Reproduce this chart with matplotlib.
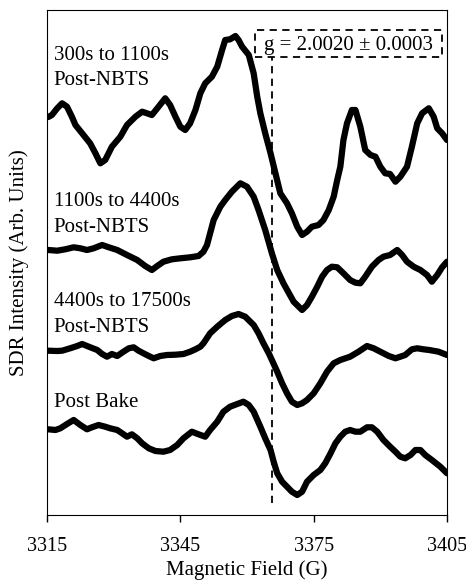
import numpy as np
import matplotlib.pyplot as plt
from matplotlib.patches import Rectangle

plt.rcParams['font.family'] = ['Liberation Serif', 'DejaVu Serif']

# traces (field in G, intensity in arb. units)
field1 = [3315.3, 3316.1, 3317.3, 3318.4, 3319.5, 3320.6, 3321.4, 3322.9, 3324.7, 3325.9,
          3327.0, 3328.1, 3329.6, 3331.5, 3333.0, 3334.9, 3336.4, 3337.5, 3338.6, 3340.1,
          3341.6, 3342.7, 3343.9, 3345.0, 3346.1, 3347.2, 3348.4, 3349.5, 3350.6, 3352.1,
          3353.3, 3354.4, 3355.1, 3356.2, 3357.4, 3358.1, 3358.9, 3360.4, 3361.5, 3362.3,
          3363.0, 3364.1, 3365.3, 3366.4, 3367.5, 3369.0, 3370.1, 3371.3, 3372.4, 3373.5,
          3374.6, 3376.1, 3377.2, 3378.4, 3379.5, 3380.3, 3381.0, 3381.7, 3382.5, 3383.6,
          3384.4, 3385.5, 3386.6, 3387.8, 3388.9, 3390.0, 3391.1, 3392.2, 3393.4, 3394.5,
          3396.0, 3397.1, 3398.3, 3399.4, 3400.9, 3402.0, 3402.8, 3403.9, 3405.0]
sig1 = [398, 400, 406.7, 411.7, 408.3, 398.3, 390, 381.7, 371.7, 361.7,
        351.7, 355, 368.3, 378.3, 390, 398.3, 403.3, 401.7, 400, 408.3,
        416.7, 410, 398.3, 388.3, 385, 391.7, 405, 421.7, 431.7, 438.3,
        448.3, 465, 475, 475.7, 479, 475, 468.3, 460, 441.7, 418.3,
        401.7, 381.7, 361.7, 341.7, 321.7, 311.7, 301.7, 288.3, 280, 283.3,
        288.3, 290, 295, 305, 318.3, 335, 348.3, 375, 391.7, 405,
        405, 388.3, 365, 360, 358.3, 348.3, 341.7, 341, 333.3, 338.3,
        348.3, 368.3, 391.7, 401.7, 406.7, 398.3, 386.7, 381.7, 375]

field2 = [3315.3, 3317.3, 3319.1, 3321.0, 3322.5, 3324.0, 3325.5, 3327.4, 3328.9, 3330.8,
          3333.0, 3335.3, 3337.1, 3338.6, 3339.8, 3341.2, 3343.1, 3345.0, 3347.2, 3349.1,
          3350.2, 3351.0, 3351.7, 3352.5, 3354.0, 3355.1, 3356.6, 3358.5, 3360.0, 3361.5,
          3362.6, 3364.1, 3365.6, 3366.8, 3368.2, 3370.5, 3372.4, 3373.5, 3374.6, 3375.8,
          3376.9, 3378.0, 3379.1, 3380.3, 3381.7, 3383.2, 3384.4, 3385.5, 3386.6, 3388.1,
          3389.6, 3390.7, 3392.2, 3393.8, 3394.9, 3396.0, 3397.5, 3399.0, 3400.5, 3401.6,
          3402.8, 3403.9, 3405.0]
sig2 = [265, 264.3, 265.7, 267.7, 266.7, 265, 266.7, 270, 267.7, 265,
        260, 255, 249, 245, 249, 253.3, 255.7, 256.7, 257.7, 259,
        263.3, 270, 281.7, 295, 308.3, 315, 323.3, 331.7, 328.3, 318.3,
        305, 285, 261.7, 245, 231.7, 213.3, 205, 210, 218.3, 228.3,
        238.3, 245, 248.3, 247.7, 241.7, 235, 232.3, 231.7, 238.3, 248.3,
        255, 258.3, 260, 265, 260, 253.3, 248.3, 245, 240, 233.3,
        240, 247.7, 253.3]

field3 = [3315.3, 3317.3, 3318.4, 3320.2, 3321.8, 3322.9, 3324.4, 3326.3, 3327.4, 3328.5,
          3329.6, 3330.8, 3332.2, 3333.4, 3334.5, 3335.6, 3336.7, 3337.9, 3339.0, 3340.5,
          3342.0, 3343.9, 3345.7, 3347.2, 3348.4, 3349.5, 3350.2, 3351.7, 3353.3, 3355.1,
          3356.6, 3358.1, 3359.6, 3361.5, 3362.6, 3363.7, 3364.9, 3365.6, 3366.8, 3367.9,
          3369.0, 3370.1, 3371.3, 3372.4, 3373.5, 3375.0, 3376.5, 3378.0, 3379.5, 3381.0,
          3383.2, 3385.1, 3387.0, 3388.5, 3390.0, 3391.9, 3393.4, 3394.5, 3395.6, 3397.1,
          3398.3, 3399.7, 3401.0, 3403.1, 3405.0]
sig3 = [164.3, 164, 164.3, 166.7, 169, 171, 168.3, 165, 161, 158.3,
        161, 159, 163.3, 166.7, 167.7, 164.3, 161.7, 159, 156.7, 159,
        160, 160.3, 161, 163.3, 165.7, 168.3, 171.7, 181.7, 188.3, 195,
        199, 201, 198.3, 190, 181.7, 171.7, 161.7, 155, 143.3, 131.7,
        121.7, 113.3, 110, 111.7, 115, 121.7, 131.7, 143.3, 151.7, 155,
        158.3, 163.3, 169, 166.7, 163.3, 159, 156.7, 158.3, 160, 165.7,
        166.7, 165.7, 165, 163.3, 160]

field4 = [3315.3, 3316.9, 3318.0, 3319.5, 3321.0, 3322.5, 3324.0, 3325.1, 3326.6, 3328.1,
          3329.2, 3330.8, 3331.9, 3333.0, 3334.1, 3335.3, 3336.4, 3337.9, 3339.4, 3341.2,
          3342.7, 3344.3, 3345.7, 3347.6, 3349.1, 3350.6, 3351.7, 3353.3, 3354.7, 3356.2,
          3357.8, 3359.2, 3360.4, 3361.5, 3363.0, 3364.1, 3365.3, 3366.0, 3366.8, 3367.9,
          3369.0, 3370.1, 3371.3, 3372.4, 3373.5, 3375.0, 3376.5, 3377.6, 3378.8, 3379.9,
          3381.0, 3382.1, 3383.2, 3384.4, 3385.5, 3387.0, 3388.1, 3389.3, 3390.7, 3392.2,
          3393.4, 3394.5, 3395.6, 3396.8, 3397.9, 3399.0, 3400.1, 3401.6, 3403.5, 3405.0]
sig4 = [85.7, 85, 86.7, 91, 95, 90, 85.7, 87.7, 90, 88.3,
        86.7, 85, 81.7, 78.3, 80.7, 76.7, 71.7, 66.7, 64, 63.3,
        65, 70, 76.7, 83.3, 80.7, 78.3, 85, 93.3, 103.3, 108.3,
        111, 113.3, 110, 103.3, 88.3, 76.7, 65, 53.3, 41.7, 33.3,
        28.3, 23.3, 20, 23.3, 33.3, 40, 45, 51.7, 61.7, 71.7,
        78.3, 83.3, 85, 83.3, 83.3, 87.7, 87.7, 83.3, 75, 68.3,
        63.3, 58.3, 56.7, 60, 65, 65, 60, 55, 48.3, 41.7]

labels = ['300s to 1100s\nPost-NBTS', '1100s to 4400s\nPost-NBTS',
          '4400s to 17500s\nPost-NBTS', 'Post Bake']
label_y = [430, 283.3, 183.3, 108.3]   # baseline of the last line
g_field = 3365.6
g_text = 'g = 2.0020 ± 0.0003'

fig = plt.figure(figsize=(4.66, 5.81), dpi=100)
ax = fig.add_axes([47/466, 66/581, 400/466, 505/581])

for f, s in [(field1, sig1), (field2, sig2), (field3, sig3), (field4, sig4)]:
    ax.plot(f, s, color='black', lw=4.5, solid_joinstyle='round', solid_capstyle='round')

for lab, yy in zip(labels, label_y):
    ax.text(3316.5, yy, lab, fontsize=15, va='baseline', ha='left', linespacing=1.45)

# g-value marker and dashed box
ax.plot([g_field, g_field], [12, 458], color='black', lw=1.3, ls=(0, (4, 3)))
ax.add_patch(Rectangle((3361.9, 458), 42.0, 27, fc='white', ec='black', lw=1.3,
                       ls=(0, (4, 3)), zorder=3))
ax.text(3382.9, 465, g_text, fontsize=15, ha='center', va='baseline', zorder=4)

ax.set_xlim(3315, 3405)
ax.set_ylim(0, 505)
ax.set_xticks([3315, 3345, 3375, 3405])
ax.set_yticks([])
ax.tick_params(axis='x', direction='out', length=5, width=1, labelsize=14.5, pad=11)
ax.set_xlabel('Magnetic Field (G)', fontsize=15, labelpad=3)
ax.set_ylabel('SDR Intensity (Arb. Units)', fontsize=15, labelpad=13)

fig.savefig('out.png', dpi=100)
